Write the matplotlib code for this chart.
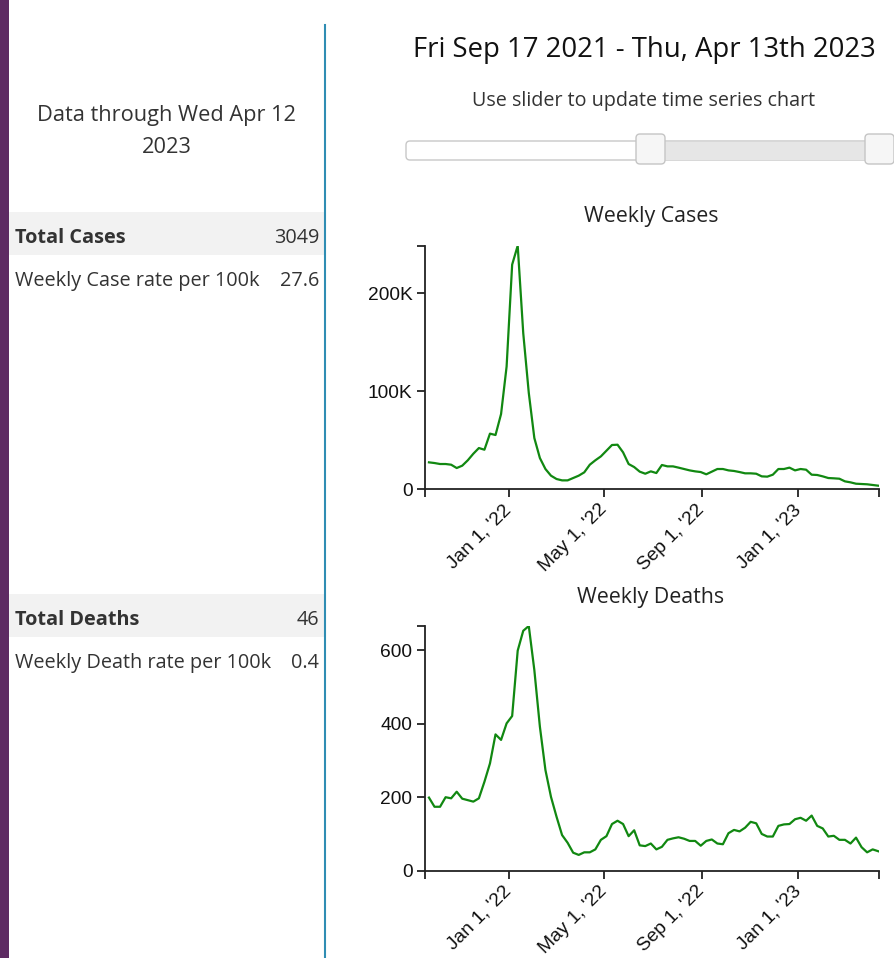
import pandas as pd
import matplotlib
matplotlib.use("Agg")
import matplotlib.pyplot as plt
from matplotlib.patches import Rectangle, FancyBboxPatch
from matplotlib.ticker import FuncFormatter

W, H = 895, 958

# weekly series, one point per Wednesday starting Sep 22 2021
first_week = "2021-09-22"
weekly_cases = [
    27200, 26500, 25500, 25500, 24800, 21400, 23800, 29300, 36000, 41800,
    40100, 56500, 55100, 76500, 125000, 229000, 248300, 159000, 98000, 52000,
    31600, 20400, 13600, 10200, 8800, 8800, 11200, 13600, 17000, 24800,
    29300, 33300, 39100, 44900, 45200, 37400, 25500, 22400, 17700, 15600,
    18000, 16300, 24500, 23100, 23100, 21800, 20400, 19000, 18000, 17300,
    15000, 17700, 20400, 20400, 19000, 18400, 17300, 16000, 16000, 15600,
    12900, 12600, 14600, 20400, 20400, 21800, 19000, 20400, 19700, 14600,
    14300, 12900, 11200, 10900, 10500, 7800, 6800, 5400, 5100, 4800,
    4100, 3400,
]
weekly_deaths = [
    199, 174, 174, 200, 197, 215, 196, 192, 188, 197,
    242, 292, 371, 356, 401, 421, 599, 653, 666, 546,
    392, 274, 201, 147, 97, 76, 49, 43, 50, 50,
    58, 84, 94, 127, 136, 127, 94, 110, 69, 67,
    74, 58, 65, 84, 88, 91, 87, 81, 81, 68,
    81, 85, 74, 72, 102, 111, 107, 117, 133, 129,
    100, 93, 93, 122, 126, 127, 140, 144, 136, 150,
    122, 115, 93, 95, 84, 84, 74, 90, 64, 50,
    58, 53,
]
weeks = pd.date_range(first_week, periods=len(weekly_cases), freq="7D")

domain_start = pd.Timestamp("2021-09-17")
domain_end = pd.Timestamp("2023-04-13")
xtick_dates = pd.to_datetime(["2022-01-01", "2022-05-01", "2022-09-01", "2023-01-01"])
xtick_labels = ["Jan 1, '22", "May 1, '22", "Sep 1, '22", "Jan 1, '23"]
case_ticks = [0, 100000, 200000]
death_ticks = [0, 200, 400, 600]

summary = [
    ("Total Cases", "3049", "Weekly Case rate per 100k", "27.6"),
    ("Total Deaths", "46", "Weekly Death rate per 100k", "0.4"),
]

TXT = "#333333"
SANS = ["Open Sans", "DejaVu Sans"]
AX = ["Liberation Sans", "DejaVu Sans"]

fig = plt.figure(figsize=(W / 100, H / 100), dpi=100)

# page layer in pixel coordinates
bg = fig.add_axes([0, 0, 1, 1])
bg.set_xlim(0, W)
bg.set_ylim(H, 0)
bg.axis("off")

bg.add_patch(Rectangle((0, 0), 9, H, color="#5e2b63", lw=0))
bg.plot([325, 325], [25, H], color="#2f8db3", lw=1.5)

bg.text(167, 115, "Data through Wed Apr 12", ha="center", va="center",
        fontsize=15.7, family=SANS, color=TXT)
bg.text(167, 147, "2023", ha="center", va="center", fontsize=15.7, family=SANS, color=TXT)

for (top, row) in zip([212, 594], summary):
    bg.add_patch(Rectangle((9, top), 316, 43, color="#f2f2f2", lw=0))
    bg.text(15, top + 26, row[0], ha="left", va="center", fontsize=14.3,
            family=SANS, weight="bold", color=TXT)
    bg.text(319, top + 26, row[1], ha="right", va="center", fontsize=14.3, family=SANS, color=TXT)
    bg.text(15, top + 69, row[2], ha="left", va="center", fontsize=14.3, family=SANS, color=TXT)
    bg.text(319, top + 69, row[3], ha="right", va="center", fontsize=14.3, family=SANS, color=TXT)

bg.text(644, 50, "Fri Sep 17 2021 - Thu, Apr 13th 2023", ha="center", va="center",
        fontsize=19.8, family=SANS, color="#111111")
bg.text(644, 101, "Use slider to update time series chart", ha="center", va="center",
        fontsize=14.2, family=SANS, color=TXT)

# slider
bg.add_patch(FancyBboxPatch((406, 141), 482, 19, boxstyle="round,pad=0,rounding_size=4",
                            fc="white", ec="#c8c8c8", lw=1))
bg.add_patch(Rectangle((650, 141.5), 230, 18, color="#e6e6e6", lw=0))
for hx in [636, 865]:
    bg.add_patch(FancyBboxPatch((hx, 134), 29, 30, boxstyle="round,pad=0,rounding_size=4",
                                fc="#f6f6f6", ec="#c5c5c5", lw=1))

bg.text(651, 216, "Weekly Cases", ha="center", va="center", fontsize=15.4, family=SANS, color="#222222")
bg.text(651, 598, "Weekly Deaths", ha="center", va="center", fontsize=15.4, family=SANS, color="#222222")


def chart(top, bottom, values, yticks, fmt):
    ax = fig.add_axes([425 / W, 1 - bottom / H, (879 - 425) / W, (bottom - top) / H])
    ax.plot(weeks, values, color="#118811", lw=1.6)
    ax.set_xlim(domain_start, domain_end)
    ax.set_ylim(0, max(values))
    ax.set_facecolor("none")
    for s in ["top", "right"]:
        ax.spines[s].set_visible(False)
    for s in ["left", "bottom"]:
        ax.spines[s].set_linewidth(1.3)
        ax.spines[s].set_color("#222222")
    ax.set_yticks(yticks)
    ax.yaxis.set_major_formatter(FuncFormatter(fmt))
    ax.set_yticks([max(values)], minor=True)
    ax.set_xticks(xtick_dates)
    ax.set_xticklabels(xtick_labels, rotation=45, ha="right", va="center",
                       rotation_mode="anchor", family=AX)
    ax.set_xticks([domain_start, domain_end], minor=True)
    ax.tick_params(which="both", direction="out", length=6, width=1.3, color="#222222",
                   labelsize=13.8, labelcolor="#111111")
    ax.tick_params(axis="x", pad=7)
    ax.tick_params(axis="y", pad=3)
    for lab in ax.get_yticklabels():
        lab.set_family(AX)
    return ax


chart(245.7, 489, weekly_cases, case_ticks,
      lambda v, p: "0" if v == 0 else f"{int(v / 1000)}K")
chart(626, 870.7, weekly_deaths, death_ticks, lambda v, p: f"{int(v)}")

fig.savefig("out.png", dpi=100)
